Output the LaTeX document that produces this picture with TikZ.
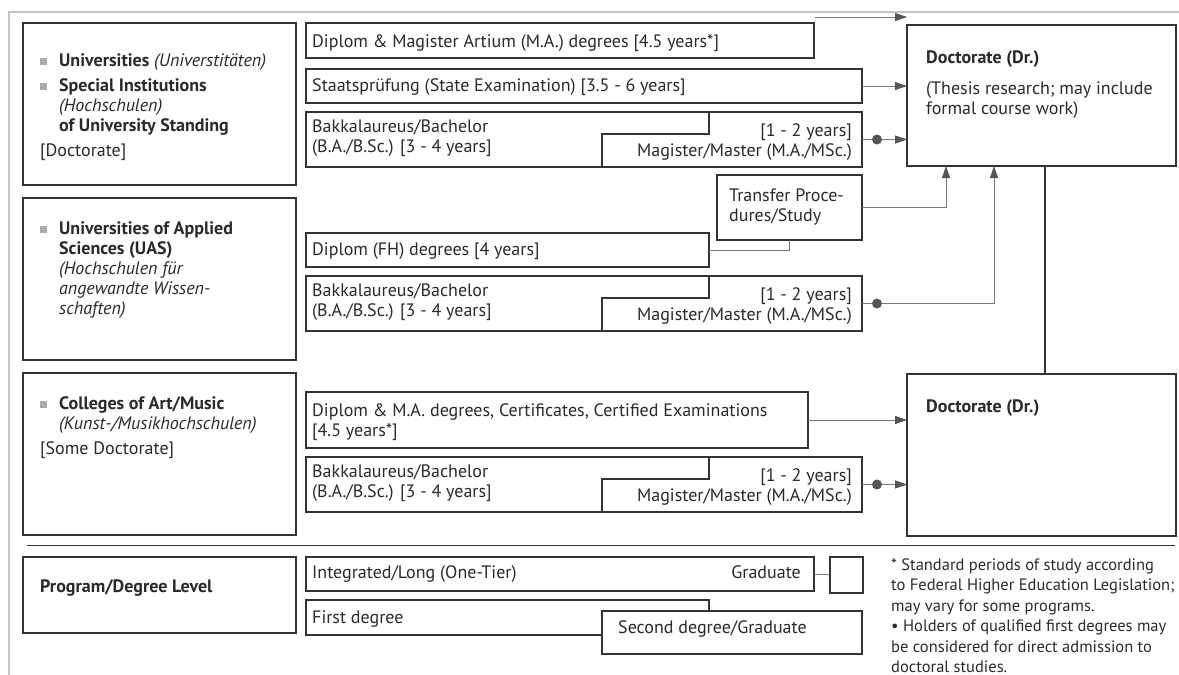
\documentclass[tikz,border=0pt]{standalone}
\usepackage{fontspec}
\setmainfont{PT Sans}
\usepackage{tikz}
\usetikzlibrary{arrows.meta}
\definecolor{boxline}{HTML}{333333}
\definecolor{linkgray}{HTML}{777777}
\definecolor{tipgray}{HTML}{555555}
\definecolor{framegray}{HTML}{C2C2C2}
\definecolor{bulletgray}{HTML}{ABABAB}
\definecolor{textgray}{HTML}{2A2A2A}
\newcommand{\bulletbox}{\makebox[19pt][l]{\textcolor{bulletgray}{\rule[1.5pt]{7pt}{7pt}}}}
\newcommand{\indentbox}{\hspace*{19pt}}
\def\midx{306}

\begin{document}
\begin{tikzpicture}[x=1pt,y=-1pt,>={Triangle[length=12pt,width=8pt,color=tipgray]},
    font=\fontsize{18}{20}\selectfont, text=textgray]
    \tikzstyle{box}=[draw=boxline,line width=1.2pt,inner sep=0pt,outer sep=0pt,anchor=north west,fill=white]
    \tikzstyle{school}=[box,line width=2.4pt]
    \tikzstyle{txt}=[inner sep=0pt,align=left,anchor=north west]
    \tikzstyle{note txt}=[txt,font=\fontsize{16.5}{20.4}\selectfont]
    \tikzstyle{link}=[linkgray,line width=0.9pt]
    \tikzstyle{dot}=[circle,fill=tipgray,minimum size=10pt,inner sep=0pt]

    \useasboundingbox (0,0) rectangle (1179,675);

    % Draw the frame
    \draw[framegray,line width=2.5pt] (9,675) -- (9,12) -- (1179,12);
    \draw[boxline,line width=1pt] (27,545) -- (1175,545);

    % Draw the institution boxes
    \node[school,minimum width=273pt,minimum height=162pt] (L-1) at (23,23) {};
    \node[school,minimum width=273pt,minimum height=162pt] (L-2) at (23,198) {};
    \node[school,minimum width=273pt,minimum height=162pt] (L-3) at (23,373) {};
    \node[school,minimum width=273pt,minimum height=76pt] (L-4) at (23,557) {};
    \node[txt] (L-1t) at (40,53.5) {\bulletbox\textbf{Universities} \textit{(Universtitäten)}\\[5pt]
        \bulletbox\textbf{Special Institutions}\\\indentbox\textit{(Hochschulen)}\\
        \indentbox\textbf{of University Standing}\\[5pt]{}[Doctorate]};
    \node[txt] (L-2t) at (40,221.5) {\bulletbox\textbf{Universities of Applied}\\\indentbox\textbf{Sciences (UAS)}\\
        \indentbox\textit{(Hochschulen für}\\\indentbox\textit{angewandte Wissen-}\\\indentbox\textit{schaften)}};
    \node[txt] (L-3t) at (40,396.5) {\bulletbox\textbf{Colleges of Art/Music}\\
        \indentbox\textit{(Kunst-/Musikhochschulen)}\\[5pt]{}[Some Doctorate]};
    \node[txt,anchor=base west] (L-4t) at (40,592) {\textbf{Program/Degree Level}};

    % Draw the degree boxes
    \node[box,minimum width=508pt,minimum height=35pt] (A-1) at (\midx,23) {};
    \node[txt,anchor=base west] (A-1t) at (312,47) {Diplom \& Magister Artium (M.A.) degrees [4.5 years*]};
    \node[box,minimum width=556pt,minimum height=34pt] (A-2) at (\midx,69) {};
    \node[txt,anchor=base west] (A-2t) at (312,91) {Staatsprüfung (State Examination) [3.5 - 6 years]};
    \node[box,minimum width=145pt,minimum height=65pt] (T) at (717,175) {};
    \node[txt] (Tt) at (729,188.5) {Transfer Proce-\\dures/Study};
    \node[box,minimum width=403pt,minimum height=34pt] (F) at (\midx,233) {};
    \node[txt,anchor=base west] (Ft) at (312,255) {Diplom (FH) degrees [4 years]};
    \node[box,minimum width=502pt,minimum height=56pt] (C-1) at (\midx,392) {};
    \node[txt] (C-1t) at (312,403.5) {Diplom \& M.A. degrees, Certificates, Certified Examinations\\{}[4.5 years*]};

    % Bachelor and master pairs
    \foreach \name/\y in {A-3/112,A-5/276,C-2/457} {
        \node[box,minimum width=556pt,minimum height=55pt] (\name) at (\midx,\y) {};
        \draw[boxline,line width=1.2pt] (\name.north west) ++(403,0) -- ++(0,22) -- ++(-107,0) -- ++(0,33);
        \node[txt] (\name-b) at (312,\y+7.5) {Bakkalaureus/Bachelor\\(B.A./B.Sc.) [3 - 4 years]};
        \node[txt,align=right,anchor=north east] (\name-m) at (852,\y+11.5) {[1 - 2 years]\\Magister/Master (M.A./MSc.)};
        \node[dot] (\name-dot) at (877,\y+27.5) {};
    }

    % Draw the doctorate boxes
    \node[school,minimum width=269pt,minimum height=141pt] (D-1) at (907,25) {};
    \node[txt] (D-1t) at (926,50.5) {\textbf{Doctorate (Dr.)}\\[11pt](Thesis research; may include\\formal course work)};
    \node[school,minimum width=269pt,minimum height=162pt] (D-2) at (907,374) {};
    \node[txt,anchor=base west] (D-2t) at (926,412) {\textbf{Doctorate (Dr.)}};

    % Draw the legend
    \node[box,minimum width=508pt,minimum height=34pt] (P-1) at (\midx,557) {};
    \node[txt,anchor=base west] (P-1t) at (312,578) {Integrated/Long (One-Tier)};
    \node[txt,anchor=base east] (P-1g) at (801,578) {Graduate};
    \node[box,minimum width=33pt,minimum height=36pt] (Q) at (830,557) {};
    \node[box,minimum width=403pt,minimum height=35pt] (P-2) at (\midx,600) {};
    \node[txt,anchor=base west] (P-2t) at (312,623) {First degree};
    \node[box,minimum width=260pt,minimum height=43pt] (P-3) at (602,611) {};
    \node[txt,anchor=base west] (P-3t) at (618,633) {Second degree/Graduate};
    \node[note txt] (note) at (891,558.5) {* Standard periods of study according\\
        to Federal Higher Education Legislation;\\may vary for some programs.\\
        \textbullet{} Holders of qualified first degrees may\\be considered for direct admission to\\doctoral studies.};

    % Connect the degrees with the doctorate
    \coordinate (top) at (815,17);
    \path[link,->] (top) edge (top -| D-1.west);
    \path[link,->] (A-2.east) edge (A-2.east -| D-1.west);
    \path[link,->] (T.east) edge[to path={-| (\tikztotarget)}] ([xshift=39pt]D-1.south west);
    \path[link] (F.east) edge[to path={-| (\tikztotarget)}] (T.south);
    \path[link,->] (C-1.east) edge (C-1.east -| D-2.west);
    \foreach \name in {A-3,A-5,C-2}
        \path[link] (\name.east) edge (\name-dot);
    \path[link,->] (A-3-dot) edge (A-3-dot -| D-1.west);
    \path[link,->] (A-5-dot) edge[to path={-| (\tikztotarget)}] ([xshift=87pt]D-1.south west);
    \path[link,->] (C-2-dot) edge (C-2-dot -| D-2.west);
    \draw[boxline,line width=2.4pt] ([xshift=138pt]D-1.south west) -- ([xshift=138pt]D-2.north west);
    \path[link] (P-1.east) edge (P-1.east -| Q.west);
\end{tikzpicture}
\end{document}
